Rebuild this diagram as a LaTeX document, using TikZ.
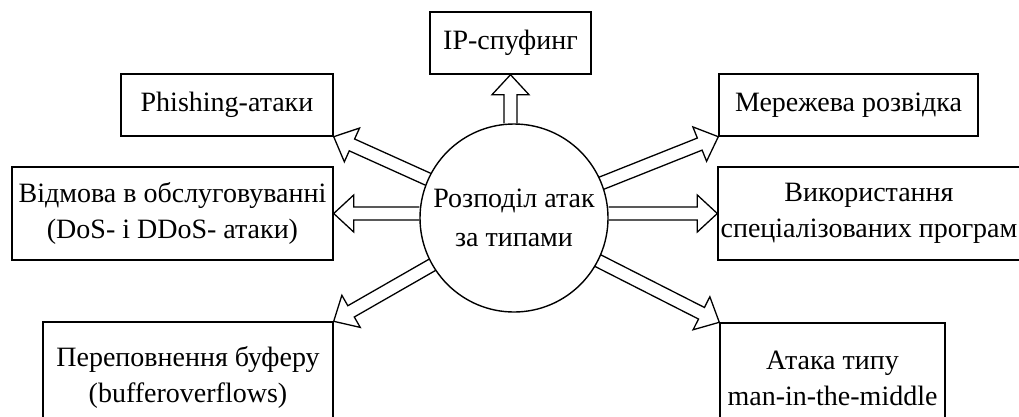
\documentclass[tikz,border=0pt]{standalone}
\usepackage{fontspec}
\setmainfont{Liberation Serif}
\usetikzlibrary{calc}
\tikzset{
  boxnode/.style={draw, line width=1.4pt, rectangle, inner sep=0pt, align=center,
    font=\fontsize{28}{36}\selectfont},
  circnode/.style={draw, line width=1.4pt, circle, inner sep=0pt, minimum size=188pt,
    align=center, font=\fontsize{28}{39}\selectfont},
  arrline/.style={draw, line width=1.3pt, line join=miter},
}
\newcommand\blockarr[3]{%
  \path ($(#3)!20pt!(#2)$) coordinate (#1b);
  \draw[arrline] ($(#2)!6.5pt!90:(#3)$) -- ($(#1b)!6.5pt!90:(#3)$) -- ($(#1b)!18.5pt!90:(#3)$) -- (#3)
     -- ($(#1b)!18.5pt!-90:(#3)$) -- ($(#1b)!6.5pt!-90:(#3)$) -- ($(#2)!6.5pt!-90:(#3)$);
}
\begin{document}
\begin{tikzpicture}[x=1pt,y=-1pt]
\useasboundingbox (0,0) rectangle (1019,416);
\clip (0,0) rectangle (1019,416);

\node[circnode] (c) at (514,218) {Розподіл атак\\за типами};

\node[boxnode, minimum width=161pt, minimum height=62pt] (ip) at (510.5,43) {IP-спуфинг};
\node[boxnode, minimum width=212pt, minimum height=62pt] (phish) at (227,105) {Phishing-атаки};
\node[boxnode, minimum width=259pt, minimum height=62pt] (net) at (848.5,105) {Мережева розвідка};
\node[boxnode, minimum width=321pt, minimum height=93pt] (dos) at (172.5,213.5) {Відмова в обслуговуванні\\(DoS- і DDoS- атаки)};
\node[boxnode, minimum width=316pt, minimum height=93pt] (prog) at (876,213.5) {};
\node[font=\fontsize{28}{36}\selectfont, align=center, inner sep=0pt] (progtext) at (869,213.5) {Використання\\спеціалізованих програм};
\node[boxnode, minimum width=290pt, minimum height=110pt] (bof) at (188,377) {Переповнення буферу\\(bufferoverflows)};
\node[boxnode, minimum width=225pt, minimum height=110pt] (mitm) at (832.5,378) {Атака типу\\man-in-the-middle};

\coordinate (s1) at ($(c.center)!94pt!(phish.south east)$);
\coordinate (s2) at ($(c.center)!94pt!(net.south west)$);
\coordinate (s3) at ($(c.center)!94pt!(bof.north east)$);
\coordinate (s4) at ($(c.center)!94pt!(mitm.north west)$);
\coordinate (s5) at (ip.south |- c.north);
\coordinate (s6) at (dos.east -| c.west);
\coordinate (s7) at (prog.west -| c.east);

\blockarr{aip}{s5}{ip.south}
\blockarr{aph}{s1}{phish.south east}
\blockarr{ane}{s2}{net.south west}
\blockarr{ado}{s6}{dos.east}
\blockarr{apr}{s7}{prog.west}
\blockarr{abo}{s3}{bof.north east}
\blockarr{ami}{s4}{mitm.north west}
\end{tikzpicture}
\end{document}
